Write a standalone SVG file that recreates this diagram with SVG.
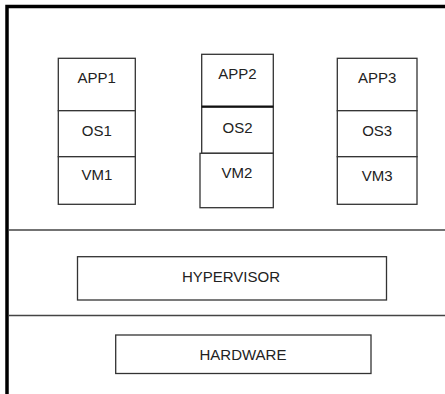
<svg xmlns="http://www.w3.org/2000/svg" width="445" height="394" viewBox="0 0 445 394">
  <style>
    .box { fill: #ffffff; stroke: #333333; stroke-width: 1.3; }
    .sep { fill: none; stroke: #444444; stroke-width: 1.5; }
    .lbl { font-family: "Liberation Sans", Arial, sans-serif; font-size: 15px; fill: #222222; text-anchor: middle; }
  </style>
  <rect width="445" height="394" fill="#ffffff"/>

  <!-- outer frame (open on the right and bottom) -->
  <path d="M7,394 V6.5 H445" fill="none" stroke="#000000" stroke-width="3.5"/>

  <!-- layer separators -->
  <g id="connectors">
    <line class="sep" x1="9" y1="230" x2="445" y2="230"/>
    <line class="sep" x1="9" y1="315.5" x2="445" y2="315.5"/>
  </g>

  <!-- virtual machine stack 1 -->
  <g id="vm-stack-1">
    <rect class="box" x="58.3" y="58.3" width="77" height="52.4"/>
    <rect class="box" x="58.3" y="110.7" width="77" height="46"/>
    <rect class="box" x="58.3" y="156.7" width="77" height="47.6"/>
    <text class="lbl" x="96.8" y="83">APP1</text>
    <text class="lbl" x="96.8" y="136">OS1</text>
    <text class="lbl" x="96.8" y="180">VM1</text>
  </g>

  <!-- virtual machine stack 2 -->
  <g id="vm-stack-2">
    <rect class="box" x="201.7" y="54.3" width="71.6" height="52.4"/>
    <rect class="box" x="201.7" y="106.7" width="71.6" height="46.6"/>
    <line x1="201.7" y1="106.7" x2="273.3" y2="106.7" stroke="#111111" stroke-width="2.2"/>
    <rect class="box" x="200" y="153.3" width="73.3" height="54.4"/>
    <text class="lbl" x="237.5" y="79">APP2</text>
    <text class="lbl" x="237.5" y="132.5">OS2</text>
    <text class="lbl" x="237" y="178">VM2</text>
  </g>

  <!-- virtual machine stack 3 -->
  <g id="vm-stack-3">
    <rect class="box" x="337.3" y="58.3" width="79.7" height="52.4"/>
    <rect class="box" x="337.3" y="110.7" width="79.7" height="46"/>
    <rect class="box" x="337.3" y="156.7" width="79.7" height="47.6"/>
    <text class="lbl" x="377.2" y="83">APP3</text>
    <text class="lbl" x="377.2" y="136">OS3</text>
    <text class="lbl" x="377.2" y="180.5">VM3</text>
  </g>

  <!-- hypervisor layer -->
  <g id="hypervisor">
    <rect class="box" x="77.5" y="256.7" width="309" height="43.3"/>
    <text class="lbl" x="231" y="281.5">HYPERVISOR</text>
  </g>

  <!-- hardware layer -->
  <g id="hardware">
    <rect class="box" x="115.7" y="335" width="255.3" height="38.5"/>
    <text class="lbl" x="243" y="360">HARDWARE</text>
  </g>
</svg>
